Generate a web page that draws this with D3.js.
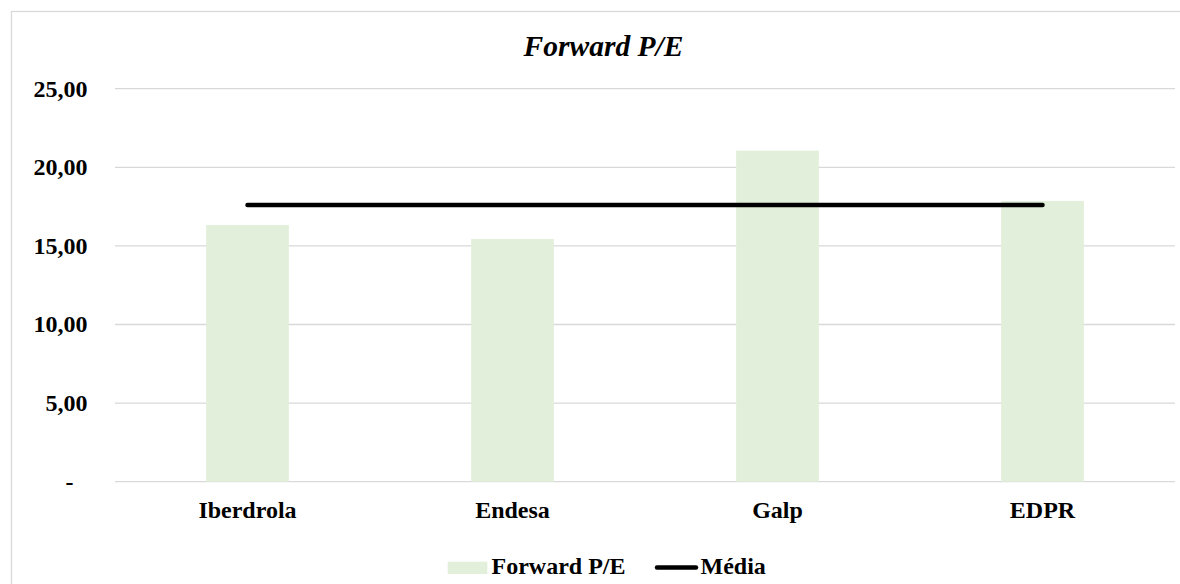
<!DOCTYPE html>
<html>
<head>
<meta charset="utf-8">
<script src="https://cdn.jsdelivr.net/npm/d3@7"></script>
</head>
<body style="margin:0">
<svg id="chart" width="1180" height="584"></svg>
<script>
const categories = ["Iberdrola", "Endesa", "Galp", "EDPR"];
const forwardPE = [16.33, 15.44, 21.06, 17.86];
const media = [17.6, 17.6, 17.6, 17.6];
const yTicks = [0, 5, 10, 15, 20, 25];
const yTickLabels = ["-", "5,00", "10,00", "15,00", "20,00", "25,00"];
const title = "Forward P/E";
const seriesNames = ["Forward P/E", "Média"];

const svg = d3.select("#chart");

// title first
svg.append("text")
  .attr("x", 603.5).attr("y", 55.5)
  .attr("text-anchor", "middle")
  .style("font-family", '"Liberation Serif", monospace')
  .style("font-size", "29.5px").style("font-weight", "bold").style("font-style", "italic")
  .text(title);

svg.append("rect")
  .attr("x", 11.5).attr("y", 11.5)
  .attr("width", 1250).attr("height", 650)
  .attr("fill", "none").attr("stroke", "#d9d9d9").attr("stroke-width", 1.3);

const plot = { left: 115, right: 1175, top: 88.7, bottom: 481.7 };
const x = d3.scaleBand().domain(categories).range([plot.left, plot.right])
  .paddingInner(0.688).paddingOuter(0.344);
const y = d3.scaleLinear().domain([0, 25]).range([plot.bottom, plot.top]);

svg.append("g").selectAll("line").data(yTicks).join("line")
  .attr("x1", plot.left).attr("x2", plot.right)
  .attr("y1", d => y(d)).attr("y2", d => y(d))
  .attr("stroke", "#d9d9d9").attr("stroke-width", 1.3);

svg.append("g").selectAll("text").data(yTicks).join("text")
  .attr("x", (d, i) => yTickLabels[i] === "-" ? 73.5 : 87.5)
  .attr("y", d => y(d))
  .attr("dy", "0.33em")
  .attr("text-anchor", "end")
  .style("font-family", '"Liberation Serif", monospace')
  .style("font-size", "24px").style("font-weight", "bold")
  .text((d, i) => yTickLabels[i]);

svg.append("g").selectAll("rect").data(forwardPE).join("rect")
  .attr("x", (d, i) => x(categories[i]))
  .attr("width", x.bandwidth())
  .attr("y", d => y(d))
  .attr("height", d => y(0) - y(d))
  .attr("fill", "#e2efda");

const line = d3.line()
  .x((d, i) => x(categories[i]) + x.bandwidth() / 2)
  .y(d => y(d));
svg.append("path").datum(media).attr("d", line)
  .attr("fill", "none").attr("stroke", "#000")
  .attr("stroke-width", 4.5).attr("stroke-linecap", "round");

svg.append("g").selectAll("text").data(categories).join("text")
  .attr("x", d => x(d) + x.bandwidth() / 2)
  .attr("y", plot.bottom + 36.5)
  .attr("text-anchor", "middle")
  .style("font-family", '"Liberation Serif", monospace')
  .style("font-size", "24px").style("font-weight", "bold")
  .text(d => d);

const lg = svg.append("g");
lg.append("rect").attr("x", 447.7).attr("y", 561.7)
  .attr("width", 39.6).attr("height", 12.3).attr("fill", "#e2efda");
lg.append("line").attr("x1", 657).attr("x2", 696)
  .attr("y1", 567.5).attr("y2", 567.5)
  .attr("stroke", "#000").attr("stroke-width", 4.5).attr("stroke-linecap", "round");
lg.selectAll("text").data(seriesNames).join("text")
  .attr("x", (d, i) => i === 0 ? 491.5 : 700.5)
  .attr("y", 574)
  .style("font-family", '"Liberation Serif", monospace')
  .style("font-size", "24px").style("font-weight", "bold")
  .text(d => d);
</script>
</body>
</html>
